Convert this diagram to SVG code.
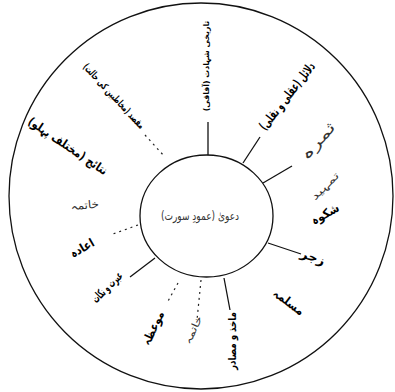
<svg xmlns="http://www.w3.org/2000/svg" width="395" height="392" viewBox="0 0 395 392">
<style>
.c{fill:none;stroke:#111;stroke-width:1.3}
.s{stroke:#111;stroke-width:1.3;fill:none}
.d{stroke:#222;stroke-width:1.2;fill:none;stroke-dasharray:2 4}
text{font-family:"DejaVu Sans",sans-serif;text-anchor:middle}
.b{font-weight:bold;fill:#000;font-size:12px}
.n{fill:#333;font-size:11px}
</style>
<rect width="395" height="392" fill="#fff"/>
<g id="outer"><ellipse class="c" cx="201" cy="196" rx="192" ry="193"/></g>
<g id="connectors">
<line class="s" x1="208" y1="155" x2="208" y2="122"/>
<line class="s" x1="243" y1="163" x2="260" y2="137"/>
<line class="s" x1="263" y1="183" x2="292" y2="166"/>
<line class="s" x1="268" y1="243" x2="301" y2="254"/>
<line class="s" x1="224" y1="278" x2="230" y2="310"/>
<line class="d" x1="201" y1="280" x2="197" y2="320"/>
<line class="d" x1="178" y1="283" x2="167" y2="303"/>
<line class="s" x1="155" y1="258" x2="130" y2="277"/>
<line class="d" x1="138" y1="225" x2="113" y2="234"/>
<line class="d" x1="145" y1="135" x2="165" y2="157"/>
</g>
<g id="center">
<ellipse class="c" cx="206.5" cy="216" rx="66.5" ry="61"/>
<text class="n" x="200" y="216" dy=".35em" textLength="78" lengthAdjust="spacingAndGlyphs" style="font-size:12px">دعویٰ (عمودِ سورت)</text>
</g>
<g id="n1"><text class="b" transform="translate(206,66) rotate(-90)" dy=".35em" style="font-size:7.8px">تاریخی شہادت (آفاقی)</text></g>
<g id="n2"><text class="b" transform="translate(287,96) rotate(-52)" dy=".35em" textLength="82" lengthAdjust="spacingAndGlyphs" style="font-size:13px">دلائل (عقلی و نقلی)</text></g>
<g id="n3"><text class="b" transform="translate(114,96) rotate(47)" dy=".35em" textLength="85" lengthAdjust="spacingAndGlyphs" style="font-size:10px">مقصد (مخاطبین کی حالت)</text></g>
<g id="n4"><text class="b" transform="translate(68,146) rotate(34)" dy=".35em" textLength="93" lengthAdjust="spacingAndGlyphs">نتائج (مختلف پہلو)</text></g>
<g id="n5"><text class="n" transform="translate(85,205) rotate(-5)" dy=".35em" textLength="28" lengthAdjust="spacingAndGlyphs">خاتمہ</text></g>
<g id="n6"><text class="b" transform="translate(82,248) rotate(-30)" dy=".35em" textLength="26" lengthAdjust="spacingAndGlyphs">اعادہ</text></g>
<g id="n7"><text class="b" transform="translate(107,287) rotate(-45)" dy=".35em" textLength="38" lengthAdjust="spacingAndGlyphs">عبرت و نکات</text></g>
<g id="n8"><text class="b" transform="translate(153,328) rotate(-65)" dy=".35em" textLength="36" lengthAdjust="spacingAndGlyphs">موعظہ</text></g>
<g id="n9"><text class="n" transform="translate(193,330) rotate(-65)" dy=".35em" textLength="30" lengthAdjust="spacingAndGlyphs" style="font-size:10px">خاتمہ</text></g>
<g id="n10"><text class="b" transform="translate(232,341) rotate(-90)" dy=".35em" textLength="58" lengthAdjust="spacingAndGlyphs" style="font-size:11px">ماخذ و مصادر</text></g>
<g id="n11"><text class="b" transform="translate(289,302) rotate(37)" dy=".35em" textLength="35" lengthAdjust="spacingAndGlyphs">مسلمہ</text></g>
<g id="n12"><text class="b" transform="translate(313,257) rotate(20)" dy=".35em" textLength="25" lengthAdjust="spacingAndGlyphs">زجر</text></g>
<g id="n13"><text class="b" transform="translate(325,214) rotate(-30)" dy=".35em" textLength="30" lengthAdjust="spacingAndGlyphs">شکوہ</text></g>
<g id="n14"><text class="n" transform="translate(325,186) rotate(-45)" dy=".35em" textLength="35" lengthAdjust="spacingAndGlyphs" style="font-size:10px">تمہید</text></g>
<g id="n15"><text class="n" transform="translate(318,141) rotate(-49)" dy=".35em" textLength="44" lengthAdjust="spacingAndGlyphs" style="font-size:14px">ثمرہ</text></g>
</svg>
